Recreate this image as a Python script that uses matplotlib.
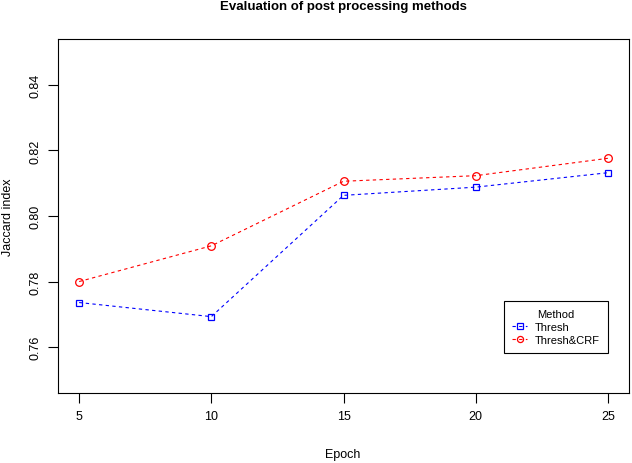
import matplotlib
matplotlib.use("Agg")
import matplotlib.pyplot as plt

epochs = [5, 10, 15, 20, 25]
thresh = [0.7736, 0.7693, 0.8063, 0.8088, 0.8132]
thresh_crf = [0.7800, 0.7909, 0.8106, 0.8123, 0.8176]

plt.rcParams['font.family'] = ['Liberation Sans', 'DejaVu Sans']
plt.rcParams['font.size'] = 9

fig = plt.figure(figsize=(6.32, 4.64), dpi=100)
ax = fig.add_axes([58 / 632, 70 / 464, 571 / 632, 354 / 464])

ax.plot(epochs, thresh, color='#0000FF', linestyle=(0, (3, 3)), linewidth=0.8,
        marker='s', markersize=5, markerfacecolor='none', markeredgewidth=0.9,
        label='Thresh')
ax.plot(epochs, thresh_crf, color='#FF0000', linestyle=(0, (3, 3)), linewidth=0.8,
        marker='o', markersize=5.5, markerfacecolor='none', markeredgewidth=0.9,
        label='Thresh&CRF')

ax.set_xlim(4.2, 25.8)
ax.set_ylim(0.746, 0.854)
ax.set_xticks(epochs)
ax.set_yticks([0.76, 0.78, 0.80, 0.82, 0.84])
ax.set_yticklabels(['0.76', '0.78', '0.80', '0.82', '0.84'], rotation=90, va='center')
ax.tick_params(direction='out', length=7, width=0.8, pad=5)
for s in ax.spines.values():
    s.set_linewidth(0.8)

fig.text(343 / 632, 1 - 455 / 464, 'Epoch', ha='center', va='center')
fig.text(8 / 632, 1 - 217 / 464, 'Jaccard index', ha='center', va='center',
         rotation=90)
fig.text(343 / 632, 1 - 7 / 464, 'Evaluation of post processing methods',
         ha='center', va='center', fontweight='bold', fontsize=9.5)

leg = ax.legend(title='Method', loc='lower left', bbox_to_anchor=(0.781, 0.113),
                borderaxespad=0, fancybox=False, edgecolor='black', framealpha=1,
                handlelength=1.4, handletextpad=0.7, borderpad=0.7,
                labelspacing=0.3, fontsize=8, title_fontsize=8, markerscale=0.8)
leg.get_frame().set_linewidth(0.8)

fig.savefig('out.png', dpi=100)
